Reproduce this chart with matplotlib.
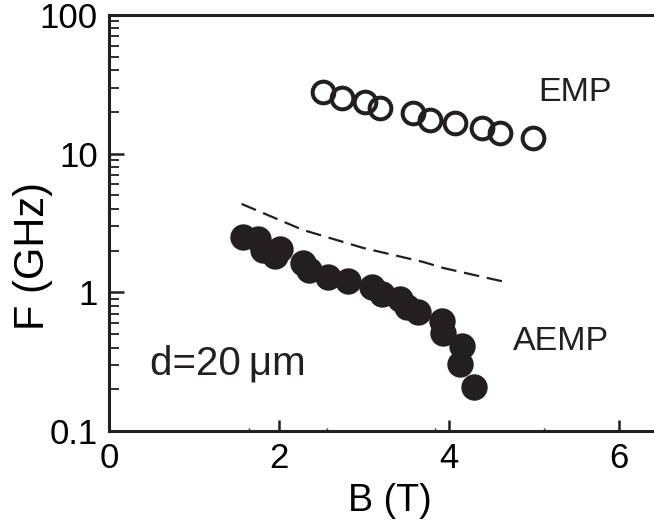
import numpy as np
import matplotlib
matplotlib.use('Agg')
import matplotlib.pyplot as plt
from matplotlib.ticker import FixedLocator, NullFormatter

plt.rcParams['font.family'] = ['Liberation Sans', 'DejaVu Sans']

# EMP (open circles)
emp_B = [2.52, 2.74, 3.01, 3.19, 3.58, 3.78, 4.07, 4.39, 4.60, 4.99]
emp_F = [27.7, 25.4, 23.7, 21.5, 19.5, 17.5, 16.6, 15.4, 14.0, 13.0]

# AEMP (filled circles)
aemp_B = [1.58, 1.75, 1.81, 2.01, 1.95, 2.28, 2.35, 2.58, 2.81, 3.09,
          3.21, 3.42, 3.51, 3.64, 3.92, 3.93, 4.15, 4.13, 4.29]
aemp_F = [2.51, 2.43, 2.02, 2.05, 1.83, 1.63, 1.45, 1.29, 1.21, 1.09,
          0.97, 0.895, 0.784, 0.721, 0.621, 0.509, 0.410, 0.303, 0.207]

# dashed curve
dash_B = [1.56, 2.28, 2.99, 3.69, 3.93, 4.40, 4.71]
dash_F = [4.34, 2.82, 2.09, 1.66, 1.50, 1.29, 1.17]

xticks = [0, 2, 4, 6]
yticks = [0.1, 1, 10, 100]
yticklabels = ["0.1", "1", "10", "100"]

ink = '#231f20'

fig = plt.figure(figsize=(6.54, 5.25), dpi=100)
ax = fig.add_axes([109/654, 1-431/525, 1-109/654, 416/525])

ax.plot(dash_B, dash_F, color=ink, lw=1.6, linestyle=(0, (7, 3.5)))
ax.plot(aemp_B, aemp_F, 'o', color=ink, markersize=19, mec='none')
ax.plot(emp_B, emp_F, 'o', mfc='none', mec=ink, markersize=15.6, mew=2.9)

ax.set_yscale('log')
ax.set_xlim(0, 545/85)
ax.set_ylim(0.1, 100)

ax.set_xticks(xticks)
ax.set_xticklabels([str(t) for t in xticks], fontsize=25)
ax.xaxis.set_minor_locator(FixedLocator([1.65, 2.56, 3.84, 5.12]))
ax.set_yticks(yticks)
ax.set_yticklabels(yticklabels, fontsize=25)
ax.yaxis.set_minor_formatter(NullFormatter())

ax.tick_params(axis='both', which='major', direction='in', color=ink,
               width=1.8, pad=8)
ax.tick_params(axis='x', which='major', length=8)
ax.tick_params(axis='y', which='major', length=11)
ax.tick_params(axis='y', which='minor', direction='in', length=7,
               width=1.3, color=ink)
ax.tick_params(axis='x', which='minor', direction='in', length=2.5,
               width=1.0, color=ink)

for side in ['left', 'top', 'bottom']:
    ax.spines[side].set_linewidth(2.2)
    ax.spines[side].set_color(ink)
ax.spines['right'].set_visible(False)

ax.set_xlabel('B (T)', fontsize=27)
ax.set_ylabel('F (GHz)', fontsize=30)
ax.xaxis.set_label_coords(0.516, -0.125)
ax.yaxis.set_label_coords(-0.103, 0.42)

ax.text(5.05, 24.0, 'EMP', fontsize=24.5, color=ink, ha='left', va='baseline')
ax.text(4.75, 0.384, 'AEMP', fontsize=24.5, color=ink, ha='left', va='baseline')
ax.text(0.48, 0.254, 'd=20\u2009\u03bcm', fontsize=29, color=ink, ha='left', va='baseline')

fig.savefig('out.png', dpi=100)
